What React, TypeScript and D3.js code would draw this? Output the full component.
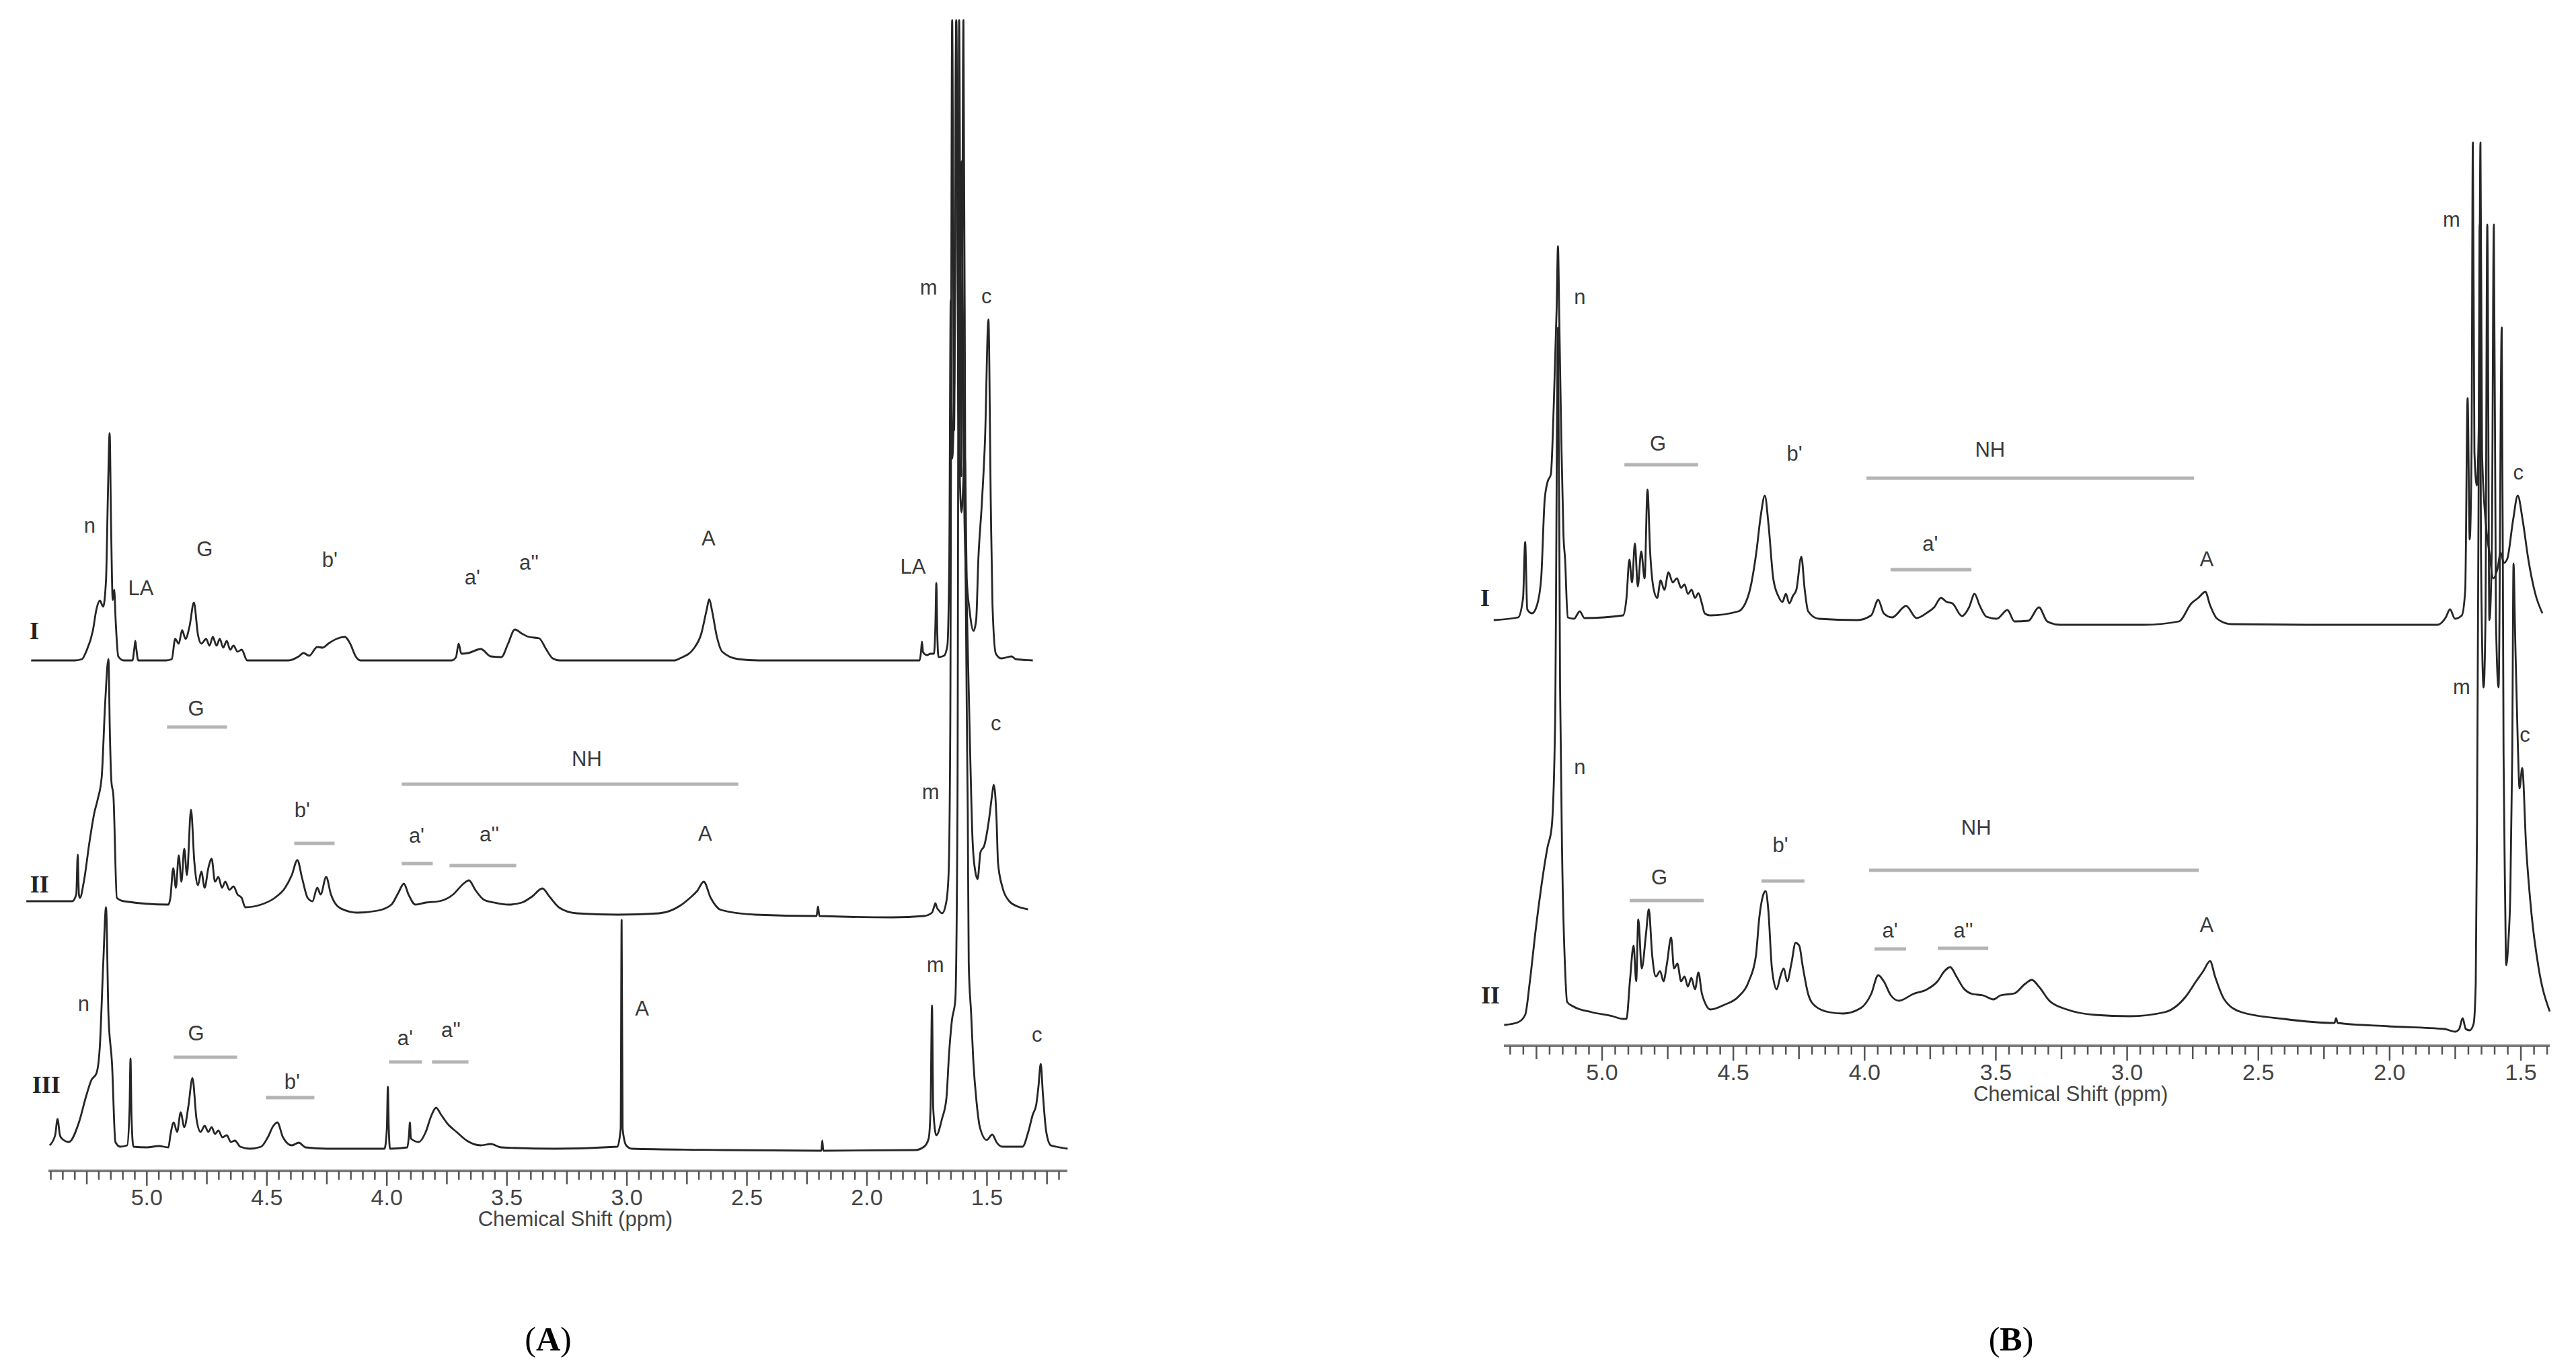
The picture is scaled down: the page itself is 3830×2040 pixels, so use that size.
import React from 'react';
import * as d3 from 'd3';

type Pt = [number, number];
type Lab = { t: string; p: number; v: number };
type Bar = { p0: number; p1: number; v: number };

// ---------------- Panel A spectra (ppm, intensity above own baseline) ----------------
const specA1: Pt[] = [
  [5.482, 0], [5.30, 0], [5.27, 2], [5.253, 13], [5.225, 44], [5.210, 76], [5.196, 89], [5.182, 80], [5.170, 120], [5.162, 250], [5.155, 338], [5.149, 200], [5.142, 90], [5.136, 105], [5.130, 60], [5.119, 6], [5.096, 0],
  [5.06, 0], [5.052, 18], [5.048, 29], [5.044, 18], [5.036, 0],
  [4.92, 0], [4.896, 2], [4.882, 32], [4.867, 25], [4.853, 45], [4.839, 32], [4.822, 51], [4.804, 86], [4.787, 38], [4.773, 25], [4.753, 32], [4.739, 22], [4.725, 35], [4.710, 22], [4.696, 32], [4.682, 19], [4.667, 29], [4.653, 16], [4.639, 22], [4.622, 13], [4.605, 16], [4.582, 0],
  [4.41, 0], [4.367, 6], [4.347, 11], [4.324, 7], [4.290, 20], [4.267, 19], [4.244, 25], [4.210, 32], [4.175, 35], [4.153, 25], [4.130, 6], [4.110, 0],
  [3.73, 0], [3.712, 5], [3.701, 25], [3.690, 10], [3.661, 11], [3.609, 17], [3.567, 6], [3.523, 5], [3.495, 25], [3.467, 46], [3.438, 40], [3.409, 35], [3.366, 33], [3.337, 17], [3.309, 3], [3.280, 0],
  [2.80, 0], [2.780, 3], [2.723, 17], [2.690, 40], [2.668, 75], [2.657, 91], [2.646, 75], [2.625, 35], [2.603, 13], [2.537, 2], [2.45, 0],
  [1.80, 0], [1.781, 0], [1.775, 12], [1.771, 28], [1.766, 12], [1.75, 8], [1.735, 10], [1.721, 10], [1.715, 50], [1.711, 115], [1.707, 40], [1.702, 5], [1.679, 7], [1.665, 22], [1.657, 150], [1.651, 536], [1.645, 300], [1.636, 420], [1.628, 950], [1.620, 420], [1.606, 220], [1.592, 303], [1.584, 120], [1.573, 76], [1.556, 44], [1.545, 60], [1.536, 150], [1.522, 230], [1.508, 330], [1.494, 507], [1.484, 230], [1.477, 82], [1.463, 10], [1.44, 3], [1.398, 6], [1.38, 2], [1.309, 0],
];

const specA2: Pt[] = [
  [5.502, 0], [5.311, 0], [5.294, 10], [5.288, 69], [5.283, 10], [5.279, 5], [5.262, 30], [5.239, 88], [5.219, 131], [5.205, 151], [5.188, 185], [5.174, 292], [5.160, 360], [5.154, 250], [5.148, 180], [5.139, 155], [5.125, 5], [5.096, 0],
  [4.910, -5], [4.902, 5], [4.890, 49], [4.879, 20], [4.867, 68], [4.856, 29], [4.844, 78], [4.833, 39], [4.816, 136], [4.802, 58], [4.787, 24], [4.773, 44], [4.759, 20], [4.744, 49], [4.730, 63], [4.716, 29], [4.702, 36], [4.687, 20], [4.673, 29], [4.656, 17], [4.639, 22], [4.622, 10], [4.605, 5], [4.590, -9], [4.524, -5], [4.467, 5], [4.424, 20], [4.396, 39], [4.373, 61], [4.353, 34], [4.330, 5], [4.310, 0], [4.290, 20], [4.276, 10], [4.253, 36], [4.233, 10], [4.196, -10], [4.124, -17], [4.038, -14], [3.981, -5], [3.953, 12], [3.929, 26], [3.910, 10], [3.881, -5], [3.838, -2], [3.781, 0], [3.724, 10], [3.681, 26], [3.658, 31], [3.632, 17], [3.595, 2], [3.552, -2], [3.495, -5], [3.438, -2], [3.395, 7], [3.352, 19], [3.323, 7], [3.280, -10], [3.209, -18], [3.037, -20], [2.866, -18], [2.780, -7], [2.737, 5], [2.708, 15], [2.680, 29], [2.651, 5], [2.608, -13], [2.465, -20], [2.21, -22], [2.204, -8], [2.198, -22], [1.893, -24], [1.763, -22], [1.729, -17], [1.720, -8], [1.715, -3], [1.708, -10], [1.702, -13], [1.687, -18], [1.669, 0], [1.660, 40], [1.653, 250], [1.645, 1310], [1.637, 700], [1.628, 1310], [1.618, 700], [1.606, 1100], [1.595, 600], [1.584, 440], [1.572, 250], [1.560, 90], [1.549, 45], [1.539, 33], [1.527, 73], [1.511, 83], [1.491, 123], [1.478, 160], [1.472, 173], [1.466, 160], [1.460, 120], [1.454, 57], [1.435, 20], [1.407, 0], [1.371, -8], [1.329, -12],
];

const specA3: Pt[] = [
  [5.405, 5], [5.382, 20], [5.372, 44], [5.362, 20], [5.354, 15], [5.325, 10], [5.283, 39], [5.253, 78], [5.231, 102], [5.210, 112], [5.196, 151], [5.182, 272], [5.170, 359], [5.160, 200], [5.145, 126], [5.131, 10], [5.111, 3], [5.082, 5], [5.072, 60], [5.068, 134], [5.064, 50], [5.056, 3], [5.0, 2], [4.95, 4], [4.91, 2],
  [4.902, 20], [4.888, 39], [4.874, 25], [4.859, 54], [4.844, 32], [4.827, 63], [4.810, 105], [4.793, 44], [4.776, 25], [4.759, 34], [4.744, 25], [4.730, 32], [4.716, 22], [4.702, 27], [4.685, 17], [4.667, 20], [4.650, 10], [4.633, 12], [4.611, 3], [4.57, 0], [4.524, 3], [4.496, 17], [4.473, 34], [4.456, 39], [4.433, 17], [4.396, 5], [4.367, 9], [4.339, 2], [4.25, 0],
  [4.01, 0], [4.000, 30], [3.996, 92], [3.992, 30], [3.987, 0], [3.915, 2], [3.908, 20], [3.904, 39], [3.900, 15], [3.867, 10], [3.838, 25], [3.815, 49], [3.795, 61], [3.775, 51], [3.747, 37], [3.710, 25], [3.667, 12], [3.609, 5], [3.567, 7], [3.524, 2], [3.30, 0],
  [3.04, 3], [3.026, 30], [3.022, 340], [3.018, 30], [3.003, 5], [2.980, 0], [2.60, -2], [2.19, -3], [2.186, 12], [2.182, -3], [1.80, -2], [1.762, 3], [1.743, 15], [1.735, 60], [1.729, 213], [1.724, 60], [1.711, 20], [1.687, 45], [1.669, 75], [1.658, 141], [1.646, 191], [1.632, 221], [1.623, 500], [1.616, 1678], [1.607, 1000], [1.598, 1678], [1.589, 850], [1.580, 500], [1.576, 275], [1.566, 201], [1.557, 131], [1.543, 68], [1.529, 31], [1.501, 13], [1.478, 21], [1.459, 9], [1.436, 3], [1.352, 3], [1.328, 25], [1.309, 51], [1.295, 65], [1.286, 91], [1.276, 126], [1.267, 81], [1.253, 25], [1.234, 5], [1.211, 3], [1.164, 0],
];

// ---------------- Panel B spectra ----------------
const specB1: Pt[] = [
  [5.413, 0], [5.320, 4], [5.301, 33], [5.293, 116], [5.285, 16], [5.267, 10], [5.248, 22], [5.232, 62], [5.219, 177], [5.208, 205], [5.195, 217], [5.184, 320], [5.173, 464], [5.168, 556], [5.163, 446], [5.155, 263], [5.147, 125], [5.141, 91], [5.131, 4], [5.107, 2], [5.085, 13], [5.067, 3],
  [4.920, 7], [4.907, 33], [4.896, 90], [4.886, 56], [4.875, 114], [4.864, 50], [4.851, 102], [4.838, 62], [4.827, 194], [4.817, 102], [4.803, 45], [4.790, 33], [4.777, 59], [4.763, 45], [4.747, 71], [4.731, 56], [4.715, 62], [4.699, 48], [4.686, 53], [4.673, 39], [4.659, 45], [4.646, 33], [4.633, 40], [4.620, 25], [4.609, 10], [4.588, 7], [4.481, 13], [4.441, 39], [4.412, 102], [4.396, 154], [4.380, 185], [4.366, 142], [4.348, 62], [4.329, 36], [4.313, 27], [4.300, 39], [4.287, 25], [4.273, 36], [4.260, 45], [4.241, 94], [4.228, 45], [4.215, 13], [4.175, 2], [4.028, 0],
  [3.975, 7], [3.948, 30], [3.927, 10], [3.895, 4], [3.842, 21], [3.802, 3], [3.762, 11], [3.735, 19], [3.709, 33], [3.687, 27], [3.666, 25], [3.629, 6], [3.602, 19], [3.581, 39], [3.562, 22], [3.536, 5], [3.496, 2], [3.456, 15], [3.429, -2], [3.376, -1], [3.336, 19], [3.304, -2], [3.256, -7], [2.936, -7], [2.803, -2], [2.755, 25], [2.729, 33], [2.702, 42], [2.684, 22], [2.657, 2], [2.604, -6], [2.271, -7], [1.818, -7],
  [1.786, 4], [1.770, 16], [1.751, 2], [1.725, 7], [1.712, 45], [1.703, 330], [1.695, 120], [1.688, 250], [1.683, 710], [1.677, 250], [1.668, 200], [1.660, 300], [1.654, 710], [1.648, 250], [1.635, 150], [1.620, 100], [1.605, 62], [1.590, 75], [1.577, 100], [1.565, 85], [1.552, 91], [1.530, 148], [1.512, 185], [1.493, 148], [1.472, 91], [1.445, 39], [1.418, 10],
];

const specB2: Pt[] = [
  [5.373, -2], [5.320, 2], [5.293, 13], [5.275, 63], [5.253, 139], [5.227, 216], [5.208, 262], [5.192, 292], [5.179, 445], [5.168, 1035], [5.160, 500], [5.152, 246], [5.141, 82], [5.133, 32], [5.107, 25], [5.040, 17], [4.960, 11], [4.920, 7],
  [4.907, 7], [4.894, 63], [4.880, 116], [4.870, 63], [4.862, 155], [4.849, 82], [4.833, 132], [4.822, 170], [4.809, 101], [4.795, 70], [4.779, 78], [4.766, 63], [4.753, 89], [4.737, 128], [4.726, 82], [4.713, 89], [4.699, 63], [4.686, 70], [4.673, 55], [4.660, 68], [4.646, 51], [4.633, 76], [4.620, 45], [4.609, 32], [4.588, 21], [4.534, 28], [4.481, 40], [4.441, 63], [4.414, 101], [4.401, 158], [4.388, 189], [4.377, 197], [4.367, 170], [4.353, 82], [4.335, 51], [4.321, 70], [4.308, 82], [4.295, 63], [4.279, 89], [4.263, 120], [4.249, 116], [4.236, 86], [4.215, 44], [4.188, 26], [4.135, 17], [4.082, 15], [4.015, 23], [3.975, 44], [3.948, 72], [3.927, 63], [3.900, 42], [3.869, 34], [3.815, 44], [3.762, 51], [3.722, 63], [3.696, 78], [3.674, 84], [3.650, 70], [3.624, 53], [3.589, 44], [3.549, 42], [3.509, 36], [3.482, 42], [3.429, 45], [3.389, 59], [3.363, 65], [3.336, 55], [3.296, 34], [3.229, 21], [3.123, 13], [2.990, 11], [2.857, 17], [2.777, 40], [2.737, 63], [2.710, 78], [2.684, 93], [2.665, 70], [2.630, 36], [2.564, 17], [2.404, 7], [2.21, 1], [2.204, 8], [2.198, 1], [2.004, -4], [1.791, -8], [1.750, -12], [1.735, -8], [1.722, 8], [1.710, -8], [1.695, -10], [1.680, 0], [1.672, 60], [1.667, 300], [1.661, 800], [1.657, 1188], [1.652, 700], [1.642, 500], [1.635, 600], [1.628, 1188], [1.620, 600], [1.611, 700], [1.603, 1188], [1.595, 600], [1.585, 500], [1.573, 1035], [1.566, 400], [1.560, 186], [1.556, 87], [1.548, 120], [1.540, 200], [1.533, 400], [1.528, 684], [1.522, 579], [1.512, 420], [1.505, 350], [1.495, 380], [1.480, 263], [1.459, 161], [1.433, 84], [1.39, 18],
];

// ---------------- Axis ----------------
const tickValues = [5.0, 4.5, 4.0, 3.5, 3.0, 2.5, 2.0, 1.5];
const tickLabels = ['5.0', '4.5', '4.0', '3.5', '3.0', '2.5', '2.0', '1.5'];
const axisTitle = 'Chemical Shift (ppm)';
const domainA: [number, number] = [5.41, 1.165];
const domainB: [number, number] = [5.374, 1.39];

// ---------------- Annotations (ppm, level above spectrum baseline) ----------------
const labelsA1: Lab[] = [
  { t: 'I', p: 5.469, v: 44 }, { t: 'n', p: 5.238, v: 201 }, { t: 'LA', p: 5.025, v: 108 }, { t: 'G', p: 4.759, v: 166 },
  { t: "b'", p: 4.238, v: 150 }, { t: "a'", p: 3.644, v: 124 }, { t: "a''", p: 3.408, v: 146 }, { t: 'A', p: 2.66, v: 182 },
  { t: 'LA', p: 1.808, v: 140 }, { t: 'm', p: 1.743, v: 555 }, { t: 'c', p: 1.502, v: 542 },
];
const barsA1: Bar[] = [];
const labelsA2: Lab[] = [
  { t: 'II', p: 5.447, v: 25 }, { t: 'G', p: 4.795, v: 287 }, { t: 'NH', p: 3.167, v: 212 }, { t: "b'", p: 4.353, v: 136 },
  { t: "a'", p: 3.876, v: 98 }, { t: "a''", p: 3.573, v: 100 }, { t: 'A', p: 2.674, v: 101 }, { t: 'm', p: 1.735, v: 163 }, { t: 'c', p: 1.463, v: 265 },
];
const barsA2: Bar[] = [
  { p0: 4.916, p1: 4.666, v: 259 }, { p0: 3.938, p1: 2.536, v: 174 }, { p0: 4.386, p1: 4.218, v: 86 },
  { p0: 3.938, p1: 3.809, v: 56 }, { p0: 3.739, p1: 3.461, v: 53 },
];
const labelsA3: Lab[] = [
  { t: 'III', p: 5.419, v: 95 }, { t: 'n', p: 5.263, v: 216 }, { t: 'G', p: 4.795, v: 172 }, { t: "b'", p: 4.395, v: 100 },
  { t: "a'", p: 3.924, v: 165 }, { t: "a''", p: 3.733, v: 177 }, { t: 'A', p: 2.937, v: 209 }, { t: 'm', p: 1.715, v: 274 }, { t: 'c', p: 1.292, v: 170 },
];
const barsA3: Bar[] = [
  { p0: 4.888, p1: 4.624, v: 136 }, { p0: 4.504, p1: 4.302, v: 76 }, { p0: 3.991, p1: 3.854, v: 129 }, { p0: 3.812, p1: 3.66, v: 129 },
];
const labelsB1: Lab[] = [
  { t: 'I', p: 5.446, v: 33 }, { t: 'n', p: 5.085, v: 481 }, { t: 'G', p: 4.787, v: 263 }, { t: "b'", p: 4.267, v: 248 },
  { t: 'NH', p: 3.522, v: 254 }, { t: "a'", p: 3.75, v: 114 }, { t: 'A', p: 2.697, v: 91 }, { t: 'm', p: 1.764, v: 596 }, { t: 'c', p: 1.51, v: 220 },
];
const barsB1: Bar[] = [
  { p0: 4.915, p1: 4.634, v: 231 }, { p0: 3.993, p1: 2.745, v: 211 }, { p0: 3.901, p1: 3.593, v: 75 },
];
const labelsB2: Lab[] = [
  { t: 'II', p: 5.425, v: 42 }, { t: 'n', p: 5.085, v: 382 }, { t: 'G', p: 4.782, v: 218 }, { t: "b'", p: 4.321, v: 266 },
  { t: 'NH', p: 3.575, v: 292 }, { t: "a'", p: 3.903, v: 139 }, { t: "a''", p: 3.624, v: 139 }, { t: 'A', p: 2.697, v: 147 },
  { t: 'm', p: 1.726, v: 501 }, { t: 'c', p: 1.485, v: 430 },
];
const barsB2: Bar[] = [
  { p0: 4.895, p1: 4.613, v: 183 }, { p0: 4.393, p1: 4.229, v: 212 }, { p0: 3.983, p1: 2.727, v: 228 },
  { p0: 3.962, p1: 3.842, v: 111 }, { p0: 3.721, p1: 3.529, v: 112 },
];

const SANS = '"Liberation Sans", Arial, Helvetica, sans-serif';
const SERIF = '"Liberation Serif", "Times New Roman", serif';
const LINE = '#262626';
const TEXT = '#3a3a3a';
const BAR = '#b4b4b4';

type SpecDef = { data: Pt[]; base: number; labels: Lab[]; bars: Bar[] };

function Panel({ x, axisY, specs, tickFrom, tickTo }: { x: d3.ScaleLinear<number, number>; axisY: number; specs: SpecDef[]; tickFrom: number; tickTo: number }) {
  const ticks = d3.range(tickFrom, tickTo - 1, -5).map((v) => v / 100);
  const [r0, r1] = x.range();
  return (
    <g>
      {specs.map((s, i) => {
        const y = d3.scaleLinear().domain([0, 1000]).range([s.base, s.base - 1000]);
        const line = d3
          .line<Pt>()
          .x((d) => x(d[0]))
          .y((d) => y(d[1]))
          .curve(d3.curveMonotoneX);
        return (
          <g key={i}>
            <path d={line(s.data) || ''} fill="none" stroke={LINE} strokeWidth={2.8} strokeLinejoin="round" />
            {s.bars.map((b, j) => (
              <line key={'b' + j} x1={x(b.p0)} x2={x(b.p1)} y1={y(b.v)} y2={y(b.v)} stroke={BAR} strokeWidth={5} />
            ))}
            {s.labels.map((l, j) => {
              const roman = /^I+$/.test(l.t);
              return (
                <text
                  key={'l' + j}
                  x={x(l.p)}
                  y={y(l.v)}
                  textAnchor="middle"
                  dominantBaseline="central"
                  fontFamily={roman ? SERIF : SANS}
                  fontWeight={roman ? 'bold' : 'normal'}
                  fontSize={roman ? 36 : 31}
                  fill={roman ? '#222' : TEXT}
                >
                  {l.t}
                </text>
              );
            })}
          </g>
        );
      })}
      <line x1={r0} x2={r1} y1={axisY} y2={axisY} stroke="#7a7a7a" strokeWidth={4} />
      {ticks.map((t, i) => {
        const k = Math.round(t * 100);
        const len = k % 50 === 0 ? 22 : k % 25 === 0 ? 20 : 13;
        return <line key={i} x1={x(t)} x2={x(t)} y1={axisY} y2={axisY + len} stroke="#555" strokeWidth={2.5} />;
      })}
      {tickValues.map((t, i) => (
        <text key={'t' + i} x={x(t)} y={axisY + 51} textAnchor="middle" fontFamily={SANS} fontSize={34} fill="#444">
          {tickLabels[i]}
        </text>
      ))}
      <text x={x(3.215)} y={axisY + 82} textAnchor="middle" fontFamily={SANS} fontSize={31} fill="#444">
        {axisTitle}
      </text>
    </g>
  );
}

export default function App() {
  const xA = d3.scaleLinear().domain(domainA).range([72, 1587]);
  const xB = d3.scaleLinear().domain(domainB).range([2236, 3791]);
  const specsA: SpecDef[] = [
    { data: specA1, base: 982, labels: labelsA1, bars: barsA1 },
    { data: specA2, base: 1340, labels: labelsA2, bars: barsA2 },
    { data: specA3, base: 1708, labels: labelsA3, bars: barsA3 },
  ];
  const specsB: SpecDef[] = [
    { data: specB1, base: 922, labels: labelsB1, bars: barsB1 },
    { data: specB2, base: 1522, labels: labelsB2, bars: barsB2 },
  ];
  return (
    <svg width={3830} height={2040} style={{ position: 'absolute', left: 0, top: 0, background: '#fff' }}>
      <rect x={0} y={0} width={3830} height={2040} fill="#fff" />
      <Panel x={xA} axisY={1741} specs={specsA} tickFrom={540} tickTo={120} />
      <Panel x={xB} axisY={1555} specs={specsB} tickFrom={535} tickTo={140} />
      <text x={815} y={2008} textAnchor="middle" fontFamily={SERIF} fontSize={50} fill="#000">
        (<tspan fontWeight="bold">A</tspan>)
      </text>
      <text x={2990} y={2008} textAnchor="middle" fontFamily={SERIF} fontSize={50} fill="#000">
        (<tspan fontWeight="bold">B</tspan>)
      </text>
    </svg>
  );
}
